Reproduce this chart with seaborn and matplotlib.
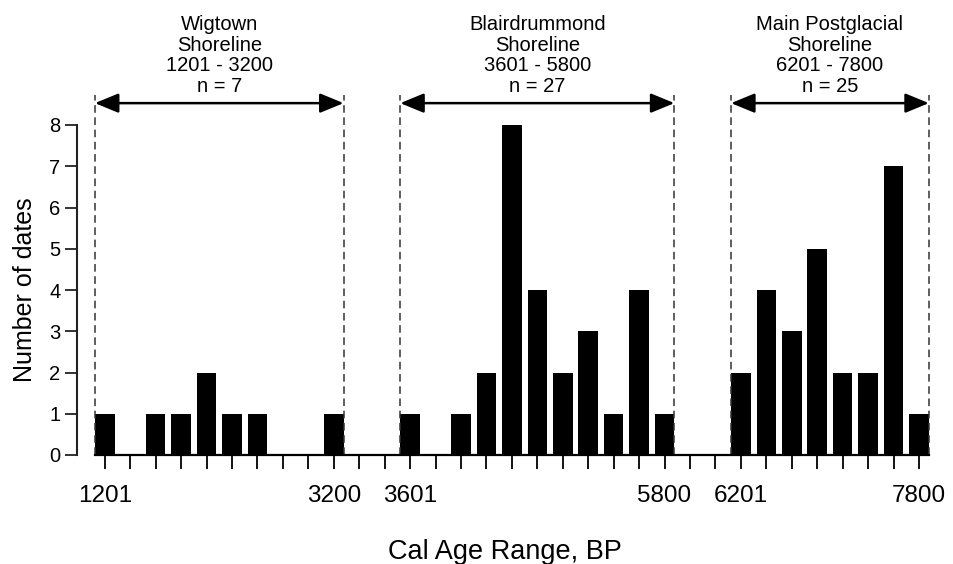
import matplotlib
matplotlib.use("Agg")
import matplotlib.pyplot as plt
import seaborn as sns
import pandas as pd
from matplotlib.patches import FancyArrowPatch

# ---- data ----
bin_starts = [1201, 1401, 1601, 1801, 2001, 2201, 2401, 2601, 2801, 3001,
              3201, 3401,
              3601, 3801, 4001, 4201, 4401, 4601, 4801, 5001, 5201, 5401, 5601,
              5801, 6001,
              6201, 6401, 6601, 6801, 7001, 7201, 7401, 7601]
counts = [1, 0, 1, 1, 2, 1, 1, 0, 0, 1,
          0, 0,
          1, 0, 1, 2, 8, 4, 2, 3, 1, 4, 1,
          0, 0,
          2, 4, 3, 5, 2, 2, 7, 1]
tick_labels = ["1201", "3200", "3601", "5800", "6201", "7800"]
tick_bins = [1201, 3001, 3601, 5601, 6201, 7601]
shore_names = ["Wigtown\nShoreline", "Blairdrummond\nShoreline", "Main Postglacial\nShoreline"]
shore_ranges = ["1201 - 3200", "3601 - 5800", "6201 - 7800"]
shore_n = [7, 27, 25]
shore_first = [1201, 3601, 6201]
shore_last = [3001, 5601, 7601]

df = pd.DataFrame({"bin": [str(b) for b in bin_starts], "count": counts})

sns.set_theme(style="ticks")
plt.rcParams["font.family"] = ["Liberation Sans", "DejaVu Sans"]
plt.rcParams["text.color"] = "black"
plt.rcParams["axes.labelcolor"] = "black"
plt.rcParams["xtick.color"] = "black"
plt.rcParams["ytick.color"] = "black"

fig = plt.figure(figsize=(9.54, 5.64), dpi=100)
ax = fig.add_axes([77 / 954, 1 - 455 / 564, (932 - 77) / 954, (455 - 125) / 564])

BW = 0.77
sns.barplot(data=df, x="bin", y="count", order=df["bin"], color="black",
            width=BW, saturation=1, ax=ax, edgecolor="black", linewidth=0)

pos = {b: i for i, b in enumerate(bin_starts)}

ax.set_xlim(-1.09, 32.51)
ax.set_ylim(0, 8)
ax.set_yticks(range(0, 9))
ax.set_xticks(range(len(bin_starts)))
ax.set_xticklabels([""] * len(bin_starts))
for lab, b in zip(tick_labels, tick_bins):
    ax.text(pos[b], -0.73, lab, ha="center", va="top", fontsize=17.5,
            transform=ax.transData)

for s in ["top", "right"]:
    ax.spines[s].set_visible(False)
ax.spines["bottom"].set_bounds(-BW / 2, len(bin_starts) - 1 + BW / 2)
ax.spines["left"].set_linewidth(1.5)
ax.spines["bottom"].set_linewidth(1.6)
ax.spines["left"].set_color("#222222")
ax.spines["bottom"].set_color("black")
ax.tick_params(axis="x", direction="out", length=10, width=1.3, color="black")
ax.tick_params(axis="y", direction="out", length=9, width=1.3, color="#222222",
               labelsize=14.5, pad=3)

ax.set_xlabel("Cal Age Range, BP", fontsize=19.5, labelpad=47)
ax.set_ylabel("Number of dates", fontsize=18, labelpad=9)

y_top = 8.73
y_arrow = 8.53
for name, rng, n, b0, b1 in zip(shore_names, shore_ranges, shore_n, shore_first, shore_last):
    x0 = pos[b0] - BW / 2
    x1 = pos[b1] + BW / 2
    for xx in (x0, x1):
        ax.plot([xx, xx], [0, y_top], color="#333333", lw=1.1,
                dashes=(5, 3), clip_on=False, zorder=1)
    arr = FancyArrowPatch((x0, y_arrow), (x1, y_arrow),
                          arrowstyle="<|-|>,head_length=0.8,head_width=0.33",
                          mutation_scale=18, color="black", lw=1.8,
                          shrinkA=0, shrinkB=0, clip_on=False)
    ax.add_patch(arr)
    ax.text((x0 + x1) / 2, 8.7, f"{name}\n{rng}\nn = {n}", ha="center", va="bottom",
            fontsize=14.5, linespacing=1.12, clip_on=False)

fig.savefig("out.png", dpi=100)
